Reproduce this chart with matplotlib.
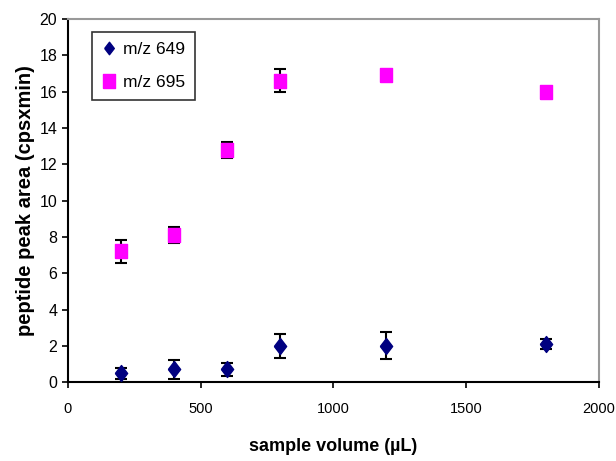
import matplotlib
matplotlib.use("Agg")
import matplotlib.pyplot as plt
from matplotlib.lines import Line2D

plt.rcParams['font.family'] = ['Liberation Sans', 'DejaVu Sans']

# sample volume (uL)
vol = [200, 400, 600, 800, 1200, 1800]
# m/z 649
a649 = [0.5, 0.7, 0.7, 2.0, 2.0, 2.1]
e649 = [0.3, 0.5, 0.35, 0.65, 0.75, 0.3]
# m/z 695
a695 = [7.2, 8.1, 12.8, 16.6, 16.9, 16.0]
e695 = [0.65, 0.45, 0.45, 0.65, 0.25, 0.15]

# tall markers (the original image is stretched vertically)
diamond = [(-1, 0), (0, 1.3), (1, 0), (0, -1.3), (-1, 0)]
rect = [(-1, -1.3), (1, -1.3), (1, 1.3), (-1, 1.3), (-1, -1.3)]

fig = plt.figure(figsize=(6.16, 4.61), dpi=100)
ax = fig.add_axes([0.110, 0.171, 0.862, 0.788])

ax.errorbar(vol, a649, yerr=e649, fmt='none', ecolor='black',
            elinewidth=1.5, capsize=4, capthick=1.5, zorder=2)
ax.errorbar(vol, a695, yerr=e695, fmt='none', ecolor='black',
            elinewidth=1.5, capsize=4, capthick=1.5, zorder=2)
ax.plot(vol, a649, ls='none', marker=diamond, ms=11.5, color='#000080', mec='#000080', zorder=3)
ax.plot(vol, a695, ls='none', marker=rect, ms=10.5, color='#ff00ff', mec='#ff00ff', zorder=3)

ax.set_xlim(0, 2000)
ax.set_ylim(0, 20)
ax.set_xticks(range(0, 2001, 500))
ax.set_yticks(range(0, 21, 2))
ax.tick_params(direction='out', length=4, width=1.2, labelsize=10.5, colors='black')
ax.tick_params(axis='y', labelsize=11.5)
ax.tick_params(axis='x', pad=10)
for s in ['left', 'bottom']:
    ax.spines[s].set_linewidth(1.5)
for s in ['top', 'right']:
    ax.spines[s].set_color('#999999')
    ax.spines[s].set_linewidth(1.5)

ax.set_xlabel('sample volume (\u00b5L)', fontsize=13, fontweight='bold', labelpad=16)
ax.set_ylabel('peptide peak area (cpsxmin)', fontsize=14.5, fontweight='bold', labelpad=3)

handles = [Line2D([], [], ls='none', marker=diamond, ms=9, color='#000080'),
           Line2D([], [], ls='none', marker=rect, ms=10.5, color='#ff00ff')]
leg = ax.legend(handles, ['m/z 649', 'm/z 695'], loc='upper left',
                bbox_to_anchor=(0.045, 0.965), fontsize=12.5, frameon=True,
                fancybox=False, handlelength=0.8, handletextpad=0.4,
                borderpad=0.6, labelspacing=1.0, borderaxespad=0)
leg.get_frame().set_edgecolor('black')
leg.get_frame().set_linewidth(1.2)

fig.savefig('out.png', dpi=100)
